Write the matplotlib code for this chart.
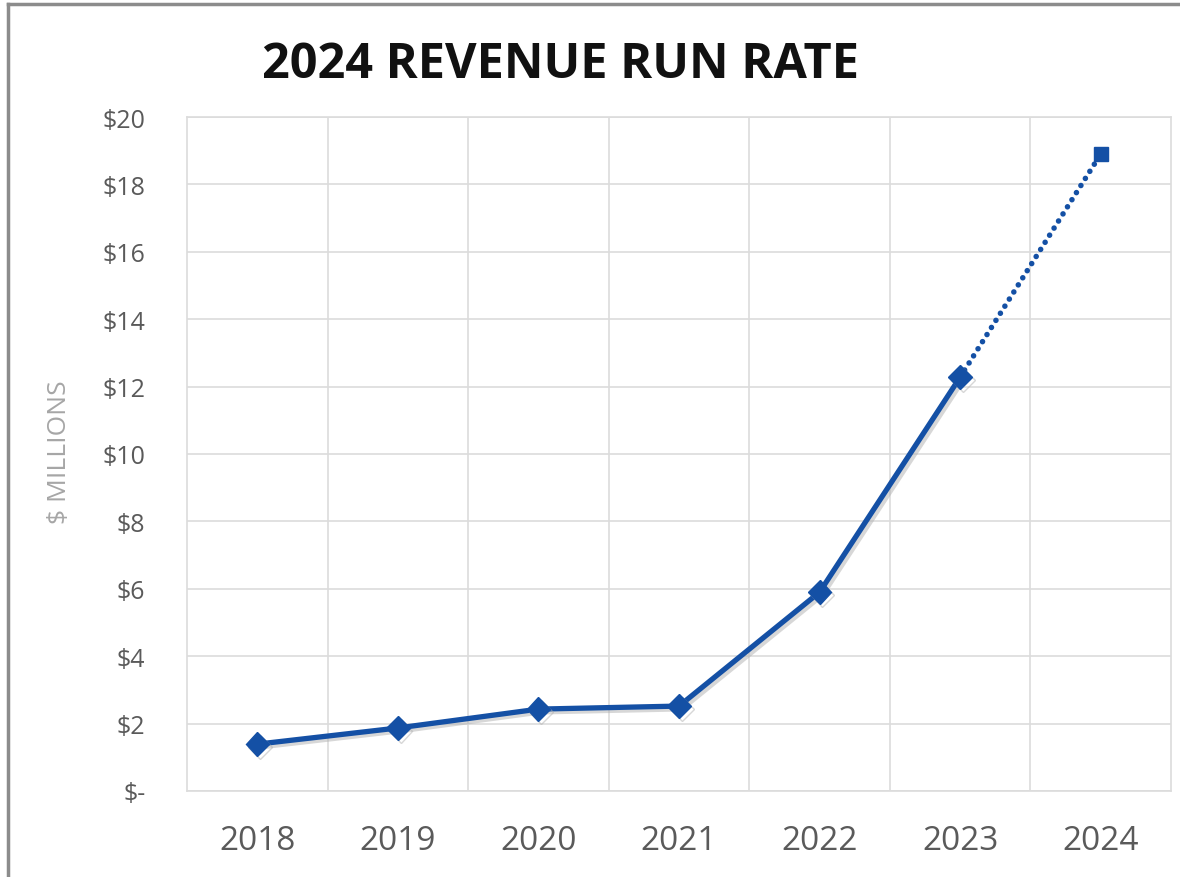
import matplotlib
matplotlib.use("Agg")
import matplotlib.pyplot as plt
import matplotlib.patheffects as pe
from matplotlib.lines import Line2D

years = ["2018", "2019", "2020", "2021", "2022", "2023", "2024"]
revenue = [1.39, 1.87, 2.43, 2.52, 5.9, 12.28, 18.9]   # $ millions
actual_count = 6                                          # 2018-2023 actual, 2024 run rate
y_ticks = [0, 2, 4, 6, 8, 10, 12, 14, 16, 18, 20]
y_tick_labels = ["$-", "$2", "$4", "$6", "$8", "$10", "$12", "$14", "$16", "$18", "$20"]

plt.rcParams["font.family"] = ["Open Sans", "DejaVu Sans"]

fig = plt.figure(figsize=(11.8, 8.78), dpi=100)
fig.patch.set_facecolor("white")

# outer frame (top and left edges visible)
frame_kw = dict(color="#8c8c8c", lw=2.5, transform=fig.transFigure)
fig.add_artist(Line2D([8/1180, 8/1180], [0, 1 - 5/878], **frame_kw))
fig.add_artist(Line2D([8/1180, 1], [1 - 5/878, 1 - 5/878], **frame_kw))

ax = fig.add_axes([187/1180, 1 - 792/878, (1171 - 187)/1180, (792 - 118)/878])
x = list(range(len(years)))

ax.set_xlim(-0.5, len(years) - 0.5)
ax.set_ylim(0, 20)
ax.set_yticks(y_ticks)
ax.set_yticklabels(y_tick_labels)
ax.set_xticks(x)
ax.set_xticklabels(years)
ax.set_xticks([i + 0.5 for i in x[:-1]], minor=True)

grid_c = "#dcdcdc"
ax.grid(True, axis="y", which="major", color=grid_c, lw=1.2)
ax.grid(True, axis="x", which="minor", color=grid_c, lw=1.2)
ax.grid(False, axis="x", which="major")
for s in ax.spines.values():
    s.set_color(grid_c)
    s.set_linewidth(1.2)
ax.set_axisbelow(True)

ax.tick_params(axis="both", which="both", length=0)
ax.tick_params(axis="y", labelsize=18, labelcolor="#5a5a5a", pad=30)
ax.tick_params(axis="x", labelsize=24, labelcolor="#5a5a5a", pad=24)

line_color = "#1450a5"
shadow = [pe.SimpleLineShadow(offset=(2, -2), shadow_color="#b0b0b0", alpha=0.5), pe.Normal()]

# actual revenue
ax.plot(x[:actual_count], revenue[:actual_count], color=line_color, lw=3.8,
        marker="D", markersize=12, markerfacecolor=line_color,
        markeredgecolor=line_color, solid_joinstyle="round",
        path_effects=shadow, zorder=3)
# run-rate projection
ax.plot(x[actual_count - 1:], revenue[actual_count - 1:], color=line_color, lw=4.0,
        linestyle=(0, (0.01, 1.5)), dash_capstyle="round", zorder=2)
ax.plot([x[-1]], [revenue[-1]], color=line_color, marker="s", markersize=10,
        linestyle="none", zorder=3)

fig.text(560/1180, 1 - 66/878, "2024 REVENUE RUN RATE", ha="center", va="center",
         fontsize=35, fontweight="bold", color="#111111")
fig.text(60/1180, 1 - 452/878, "$ MILLIONS", ha="center", va="center",
         rotation=90, fontsize=19, color="#a6a6a6")

fig.savefig("out.png", dpi=100, facecolor="white")
